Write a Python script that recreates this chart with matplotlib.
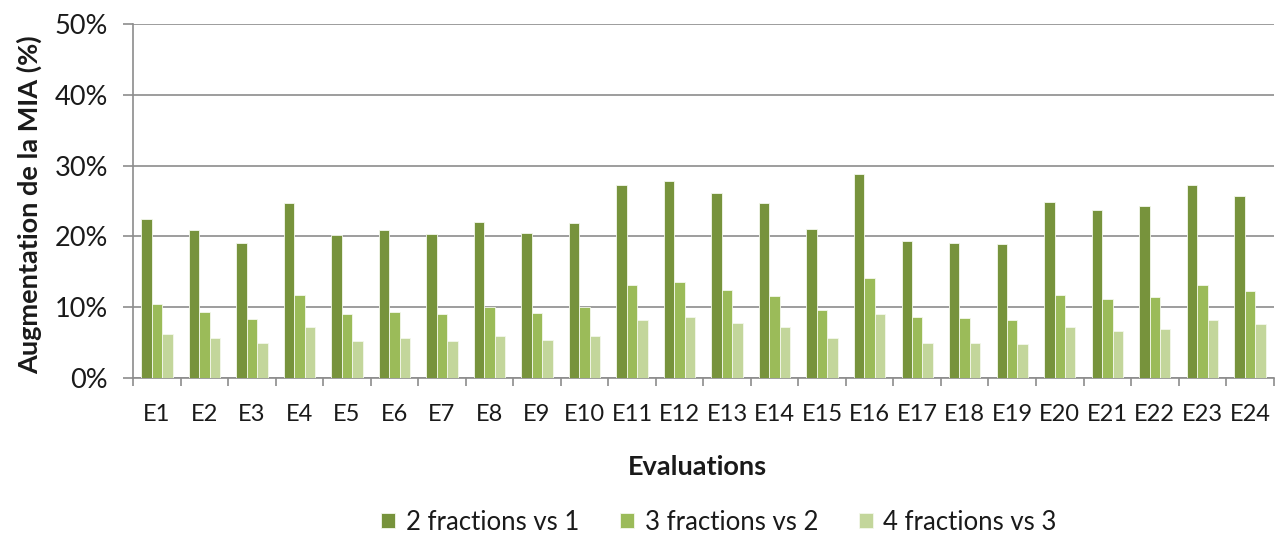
import matplotlib.pyplot as plt
import numpy as np
from matplotlib.ticker import PercentFormatter

plt.rcParams['font.family'] = ['Lato', 'DejaVu Sans']

categories = ['E%d' % i for i in range(1, 25)]
frac_2_vs_1 = [22.5, 20.9, 19.1, 24.7, 20.2, 20.9, 20.3, 22.0, 20.5, 21.9, 27.2, 27.9,
               26.2, 24.7, 21.1, 28.8, 19.4, 19.1, 18.9, 24.9, 23.7, 24.3, 27.2, 25.7]
frac_3_vs_2 = [10.4, 9.4, 8.4, 11.7, 9.0, 9.4, 9.0, 10.1, 9.2, 10.0, 13.1, 13.6,
               12.5, 11.6, 9.6, 14.2, 8.6, 8.5, 8.2, 11.7, 11.1, 11.5, 13.2, 12.3]
frac_4_vs_3 = [6.2, 5.6, 5.0, 7.2, 5.3, 5.6, 5.3, 6.0, 5.4, 6.0, 8.2, 8.6,
               7.8, 7.2, 5.6, 9.0, 5.0, 5.0, 4.8, 7.2, 6.6, 6.9, 8.2, 7.6]
series_names = ['2 fractions vs 1', '3 fractions vs 2', '4 fractions vs 3']
colors = ['#77933C', '#9BBB59', '#C3D69B']

fig = plt.figure(figsize=(12.8, 5.34), dpi=100)
ax = fig.add_axes([0.104, 0.292, 0.891, 0.663])

x = np.arange(len(categories))
w = 0.22
for i, (vals, name, c) in enumerate(zip([frac_2_vs_1, frac_3_vs_2, frac_4_vs_3], series_names, colors)):
    ax.bar(x + (i - 1) * w, vals, w, color=c, label=name, edgecolor='#f4f8ec', linewidth=0.6, zorder=3)

ax.set_xlim(-0.5, len(categories) - 0.5)
ax.set_ylim(0, 50)
ax.set_yticks(np.arange(0, 51, 10))
ax.yaxis.set_major_formatter(PercentFormatter(decimals=0))
ax.grid(axis='y', color='#8c8c8c', linewidth=1.2, zorder=0)

ax.set_xticks(x)
ax.set_xticklabels(categories)
ax.set_xticks(np.arange(-0.5, len(categories)), minor=True)
ax.tick_params(axis='x', which='major', length=0, labelsize=17, pad=19, labelcolor='#1a1a1a')
ax.tick_params(axis='x', which='minor', length=6, width=1.2, color='#8c8c8c', direction='out')
ax.tick_params(axis='y', length=7, width=1.2, color='#8c8c8c', labelsize=19.5, pad=11, labelcolor='#1a1a1a')

for s in ['top', 'right']:
    ax.spines[s].set_visible(False)
for s in ['left', 'bottom']:
    ax.spines[s].set_color('#8c8c8c')
    ax.spines[s].set_linewidth(1.2)

ax.set_ylabel('Augmentation de la MIA (%)', fontsize=19.5, fontweight='bold', color='#1a1a1a')
ax.yaxis.set_label_coords(-0.0798, 0.49)
fig.text(0.545, 1 - 467 / 534, 'Evaluations', ha='center', va='center', fontsize=19.5,
         fontweight='bold', color='#1a1a1a')

fig.legend(loc='center', bbox_to_anchor=(719 / 1280, 1 - 522 / 534), ncol=3, frameon=False,
           fontsize=18.5, handlelength=0.55, handleheight=0.55, handletextpad=0.4, columnspacing=1.6,
           labelcolor='#1a1a1a')

fig.savefig('out.png', dpi=100)
